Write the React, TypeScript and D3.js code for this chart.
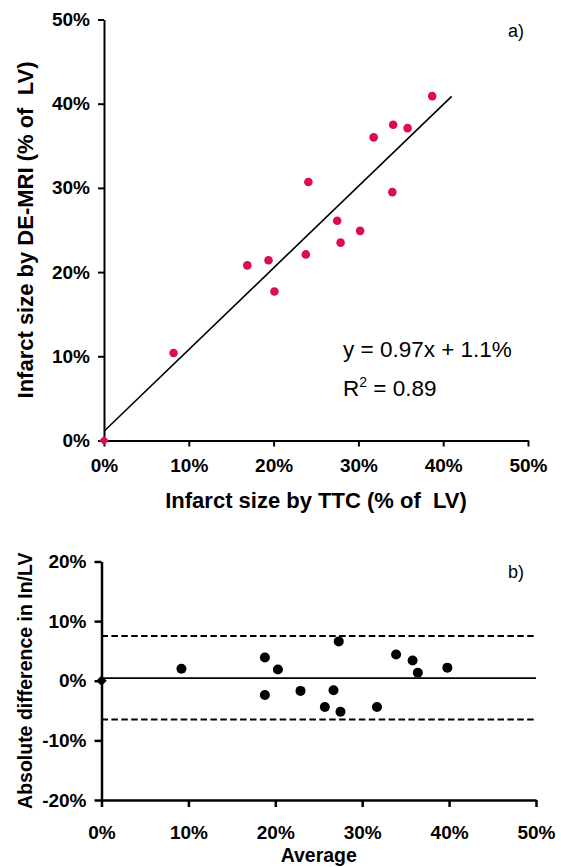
import { useEffect, useRef } from 'react'
import * as d3 from 'd3'

// a) infarct size, % of LV
const ttc = [8.2, 16.9, 19.4, 20.1, 23.8, 24.1, 27.5, 27.9, 30.2, 31.8, 34.0, 34.1, 35.8, 38.7]
const mri = [10.4, 20.8, 21.4, 17.7, 22.1, 30.7, 26.1, 23.5, 24.9, 36.0, 29.5, 37.5, 37.1, 40.9]
const fitSlope = 0.97
const fitIntercept = 1.1
const fitRange = [0, 41]

// b) Bland-Altman
const avg = [9.2, 18.8, 20.3, 18.8, 22.9, 27.3, 26.7, 25.7, 27.5, 33.9, 31.7, 35.8, 36.4, 39.8]
const diff = [2.0, 3.9, 1.9, -2.4, -1.7, 6.6, -1.6, -4.4, -5.2, 4.4, -4.4, 3.4, 1.35, 2.2]
const meanDiff = 0.45
const limits = [7.5, -6.5]

const origin = [0, 0]
const ticksA = [0, 10, 20, 30, 40, 50]
const ticksBY = [-20, -10, 0, 10, 20]

const FONT = '"Liberation Sans", Arial, Helvetica, sans-serif'
const PINK = '#dc0a5a'

const pct = (d: any) => `${d}%`

function styleAxis(g: any, width: number) {
  g.attr('font-family', FONT).attr('font-size', 19).attr('font-weight', 'bold')
  g.select('.domain').attr('stroke', '#000').attr('stroke-width', width)
  g.selectAll('.tick line').attr('stroke', '#000').attr('stroke-width', width)
  g.selectAll('.tick text').attr('fill', '#000')
}

const App = () => {
  const svgRef = useRef<SVGSVGElement>(null)

  useEffect(() => {
    const svg = d3.select(svgRef.current)
    svg.selectAll('*').remove()

    // ---------- chart a ----------
    const xA = d3.scaleLinear().domain([0, 50]).range([104, 528])
    const yA = d3.scaleLinear().domain([0, 50]).range([440.5, 19.5])

    const gA = svg.append('g')
    gA.append('g')
      .attr('transform', `translate(0,${yA(0)})`)
      .call(d3.axisBottom(xA).tickValues(ticksA).tickFormat(pct).tickSize(6).tickSizeOuter(0).tickPadding(12))
      .call(styleAxis, 2)
    gA.append('g')
      .attr('transform', `translate(${xA(0)},0)`)
      .call(d3.axisLeft(yA).tickValues(ticksA).tickFormat(pct).tickSize(6).tickSizeOuter(0).tickPadding(8))
      .call(styleAxis, 2)

    gA.append('line')
      .attr('x1', xA(fitRange[0]))
      .attr('y1', yA(fitSlope * fitRange[0] + fitIntercept))
      .attr('x2', xA(fitRange[1]))
      .attr('y2', yA(fitSlope * fitRange[1] + fitIntercept))
      .attr('stroke', '#000')
      .attr('stroke-width', 1.6)

    gA.selectAll('circle.pt')
      .data(ttc)
      .join('circle')
      .attr('class', 'pt')
      .attr('cx', (d) => xA(d))
      .attr('cy', (d, i) => yA(mri[i]))
      .attr('r', 4.3)
      .attr('fill', PINK)
    gA.append('path')
      .attr('d', d3.symbol(d3.symbolSquare, 45)())
      .attr('transform', `translate(${xA(origin[0])},${yA(origin[1])}) rotate(45)`)
      .attr('fill', PINK)

    gA.append('text')
      .text('a)')
      .attr('x', 508)
      .attr('y', 37)
      .attr('font-family', FONT)
      .attr('font-size', 18)

    const eq = gA.append('g').attr('font-family', FONT).attr('font-size', 22.5)
    eq.append('text').text('y = 0.97x + 1.1%').attr('x', 343).attr('y', 357)
    const r2 = eq.append('text').attr('x', 343).attr('y', 396)
    r2.append('tspan').text('R')
    r2.append('tspan').text('2').attr('font-size', 14).attr('dy', -9)
    r2.append('tspan').text(' = 0.89').attr('dy', 9)

    gA.append('text')
      .text('Infarct size by TTC (% of  LV)')
      .attr('x', (xA(0) + xA(50)) / 2)
      .attr('y', 508)
      .attr('text-anchor', 'middle')
      .attr('font-family', FONT)
      .attr('font-size', 22)
      .attr('font-weight', 'bold')
      .style('white-space', 'pre')
    gA.append('text')
      .text('Infarct size by DE-MRI (% of  LV)')
      .attr('transform', `translate(33,${(yA(0) + yA(50)) / 2}) rotate(-90)`)
      .attr('text-anchor', 'middle')
      .attr('font-family', FONT)
      .attr('font-size', 22)
      .attr('font-weight', 'bold')
      .style('white-space', 'pre')

    // ---------- chart b ----------
    const xB = d3.scaleLinear().domain([0, 50]).range([101.5, 536])
    const yB = d3.scaleLinear().domain([-20, 20]).range([800, 561.5])

    const gB = svg.append('g')
    gB.append('line')
      .attr('x1', xB(0))
      .attr('x2', xB(50))
      .attr('y1', yB(meanDiff))
      .attr('y2', yB(meanDiff))
      .attr('stroke', '#000')
      .attr('stroke-width', 1.8)
    gB.selectAll('line.lim')
      .data(limits)
      .join('line')
      .attr('class', 'lim')
      .attr('x1', xB(0))
      .attr('x2', xB(50))
      .attr('y1', (d) => yB(d))
      .attr('y2', (d) => yB(d))
      .attr('stroke', '#000')
      .attr('stroke-width', 2)
      .attr('stroke-dasharray', '6.5,3.4')

    gB.append('g')
      .attr('transform', `translate(0,${yB(-20)})`)
      .call(d3.axisBottom(xB).tickValues(ticksA).tickFormat(pct).tickSize(7).tickSizeOuter(0).tickPadding(19))
      .call(styleAxis, 2.5)
    gB.append('g')
      .attr('transform', `translate(${xB(0)},0)`)
      .call(d3.axisLeft(yB).tickValues(ticksBY).tickFormat(pct).tickSize(7).tickSizeOuter(0).tickPadding(8))
      .call(styleAxis, 2.5)

    gB.selectAll('circle.pt')
      .data(avg)
      .join('circle')
      .attr('class', 'pt')
      .attr('cx', (d) => xB(d))
      .attr('cy', (d, i) => yB(diff[i]))
      .attr('r', 5)
      .attr('fill', '#000')
    gB.append('path')
      .attr('d', d3.symbol(d3.symbolSquare, 55)())
      .attr('transform', `translate(${xB(origin[0])},${yB(origin[1])}) rotate(45)`)
      .attr('fill', '#000')

    gB.append('text')
      .text('b)')
      .attr('x', 508)
      .attr('y', 578)
      .attr('font-family', FONT)
      .attr('font-size', 18)

    gB.append('text')
      .text('Average')
      .attr('x', (xB(0) + xB(50)) / 2)
      .attr('y', 862)
      .attr('text-anchor', 'middle')
      .attr('font-family', FONT)
      .attr('font-size', 19.5)
      .attr('font-weight', 'bold')
    gB.append('text')
      .text('Absolute difference in In/LV')
      .attr('transform', `translate(32,${(yB(-20) + yB(20)) / 2}) rotate(-90)`)
      .attr('text-anchor', 'middle')
      .attr('font-family', FONT)
      .attr('font-size', 19.5)
      .attr('font-weight', 'bold')
  }, [])

  return (
    <svg
      ref={svgRef}
      width={561}
      height={867}
      style={{ position: 'absolute', left: 0, top: 0, background: '#fff' }}
    ></svg>
  )
}

export default App
